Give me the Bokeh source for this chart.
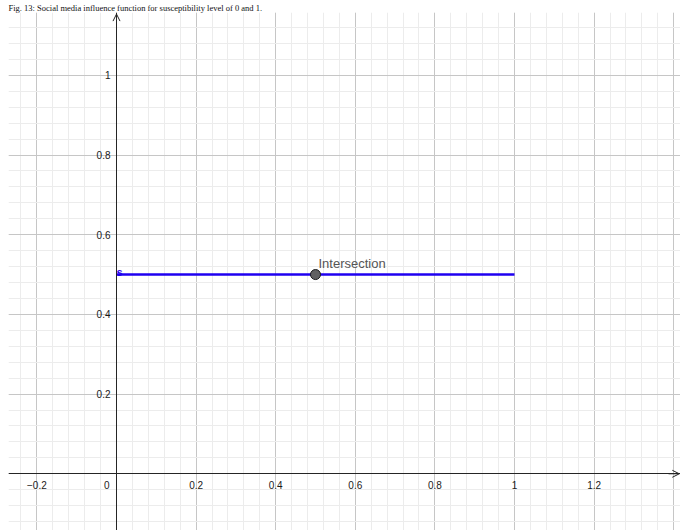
from bokeh.plotting import figure
from bokeh.models import (FixedTicker, LinearAxis, Arrow, OpenHead, Range1d,
                          Grid, ColumnDataSource, Title)
from bokeh.core.properties import value
from bokeh.embed import file_html
from bokeh.resources import INLINE

# ---- data ----
segment_x = [0, 1]
segment_y = [0.5, 0.5]
segment_label = ["s"]
point_x = [0.5]
point_y = [0.5]
point_label = ["Intersection"]
x_tick_values = [-0.2, 0.2, 0.4, 0.6, 0.8, 1, 1.2]
x_tick_labels = ["\u22120.2", "0.2", "0.4", "0.6", "0.8", "1", "1.2"]
y_tick_values = [0.2, 0.4, 0.6, 0.8, 1]
y_tick_labels = ["0.2", "0.4", "0.6", "0.8", "1"]
origin_label = ["0"]
caption = "Fig. 13: Social media influence function for susceptibility level of 0 and 1."

# ---- view ----
X0, X1 = -0.2714, 1.4171
Y0, Y1 = -0.1423, 1.1576

AXIS_COLOR = "#252525"
FONT = "Liberation Sans"

p = figure(width=680, height=530, x_range=Range1d(X0, X1), y_range=Range1d(Y0, Y1),
           output_backend="svg", toolbar_location=None,
           x_axis_type=None, y_axis_type=None,
           min_border_left=8, min_border_top=12, min_border_right=0, min_border_bottom=0)
p.outline_line_color = None
p.background_fill_color = "white"
p.border_fill_color = "white"

# caption in the top band
p.add_layout(Title(text=caption, align="left", text_font="Liberation Serif",
                   text_font_size="8.5px", text_font_style="normal",
                   text_color="#111111", standoff=0, offset=0), "above")

# grids (major every 0.2, minor every 0.04)
gx_major = [round(-0.2 + 0.2 * i, 2) for i in range(9)]
gx_minor = [round(-0.28 + 0.04 * i, 2) for i in range(44)]
gy_major = [round(0.2 * i, 2) for i in range(6)]
gy_minor = [round(-0.16 + 0.04 * i, 2) for i in range(34)]

xgrid = Grid(dimension=0, ticker=FixedTicker(ticks=gx_major, minor_ticks=gx_minor),
             grid_line_color="#c6c6c6", grid_line_width=1,
             minor_grid_line_color="#ececec", minor_grid_line_width=1)
ygrid = Grid(dimension=1, ticker=FixedTicker(ticks=gy_major, minor_ticks=gy_minor),
             grid_line_color="#c6c6c6", grid_line_width=1,
             minor_grid_line_color="#ececec", minor_grid_line_width=1)
p.add_layout(xgrid)
p.add_layout(ygrid)

# axes through the origin
xaxis = LinearAxis(ticker=FixedTicker(ticks=x_tick_values), fixed_location=0,
                   major_label_overrides=dict(zip(x_tick_values, x_tick_labels)))
yaxis = LinearAxis(ticker=FixedTicker(ticks=y_tick_values), fixed_location=0,
                   major_label_overrides=dict(zip(y_tick_values, y_tick_labels)))
for ax in (xaxis, yaxis):
    ax.axis_line_color = AXIS_COLOR
    ax.axis_line_width = 1
    ax.major_tick_line_color = None
    ax.minor_tick_line_color = None
    ax.major_tick_out = 0
    ax.major_tick_in = 0
    ax.major_label_text_font = FONT
    ax.major_label_text_font_size = "10px"
    ax.major_label_text_color = "#1a1a1a"
xaxis.major_label_standoff = 7
yaxis.major_label_standoff = 6
p.add_layout(xaxis, "below")
p.add_layout(yaxis, "left")

# axis arrows
p.add_layout(Arrow(end=OpenHead(size=7, line_color=AXIS_COLOR, line_width=1),
                   x_start=X1 - 0.03, y_start=0, x_end=X1 - 0.003, y_end=0,
                   line_color=AXIS_COLOR, line_width=1))
p.add_layout(Arrow(end=OpenHead(size=7, line_color=AXIS_COLOR, line_width=1),
                   x_start=0, y_start=Y1 - 0.03, x_end=0, y_end=Y1 - 0.004,
                   line_color=AXIS_COLOR, line_width=1))

# origin label
p.text(x=[0], y=[0], text=origin_label, text_align="right", text_baseline="top",
       x_offset=-7, y_offset=7, text_font=value(FONT), text_font_size="10px",
       text_color="#1a1a1a")

# segment s
p.line(segment_x, segment_y, line_color="#1f00f0", line_width=2.6)
p.text(x=[segment_x[0]], y=[segment_y[0]], text=segment_label, text_align="left",
       text_baseline="middle", x_offset=0, y_offset=-3, text_font=value(FONT),
       text_font_size="11px", text_font_style="bold", text_color="#1f00f0")

# intersection point
pt = ColumnDataSource(dict(x=point_x, y=point_y, label=point_label))
p.scatter("x", "y", source=pt, size=10, fill_color="#616161", line_color="#1a1a1a",
          line_width=1)
p.text("x", "y", text="label", source=pt, text_align="left", text_baseline="middle",
       x_offset=3, y_offset=-11, text_font=value(FONT), text_font_size="13px",
       text_color="#555555")

open("out.html", "w").write(file_html(p, INLINE))
